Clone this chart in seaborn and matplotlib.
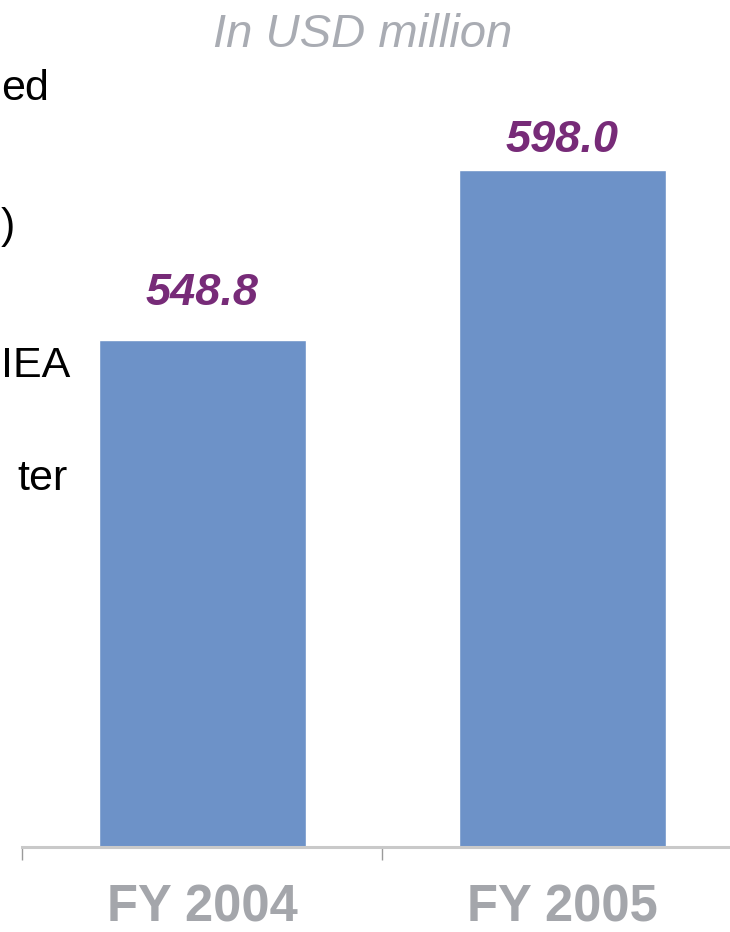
import matplotlib
matplotlib.use("Agg")
import matplotlib.pyplot as plt
import seaborn as sns
import pandas as pd

# Revenue by fiscal year
categories = ["FY 2004", "FY 2005"]
values = [548.8, 598.0]
unit_note = "In USD million"

# Fragments of the adjoining slide text at the left edge
side_text = ["ed", ")", "IEA", "ter"]

sns.set_style("white")
plt.rcParams["font.family"] = ["Liberation Sans", "DejaVu Sans"]

W, H = 730, 932
fig = plt.figure(figsize=(W / 100, H / 100), dpi=100)

# Axes spans from x=22px to x=742px, baseline at y=847px
left_px, right_px, base_px = 22, 742, 847
ax = fig.add_axes([left_px / W, (H - base_px) / H, (right_px - left_px) / W, base_px / H])

df = pd.DataFrame({"year": categories, "value": values})
sns.barplot(data=df, x="year", y="value", color="#6d92c8", saturation=1,
            width=0.575, ax=ax)

ax.set_xlim(-0.5, 1.5)
ax.set_ylim(402, 402 + base_px / 3.4537)
ax.set_xlabel("")
ax.set_ylabel("")
ax.set_yticks([])

for s in ["top", "right", "left"]:
    ax.spines[s].set_visible(False)
ax.spines["bottom"].set_color("#c9c9c9")
ax.spines["bottom"].set_linewidth(2.2)

# Category separators as minor ticks
ax.set_xticks([-0.5, 0.5, 1.5], minor=True)
ax.tick_params(axis="x", which="minor", length=9.5, width=1.0, color="#9a9a9a",
               direction="out", bottom=True)
ax.tick_params(axis="x", which="major", length=0, pad=26)
for lbl in ax.get_xticklabels():
    lbl.set_fontsize(36.5)
    lbl.set_fontweight("bold")
    lbl.set_color("#a4a6ab")

# Value labels above bars
offsets = [25, 13]
for i, (v, off) in enumerate(zip(values, offsets)):
    ax.annotate(f"{v:.1f}", xy=(i, v), xytext=(0, off), textcoords="offset points",
                ha="center", va="baseline", fontsize=32.5, fontweight="bold",
                fontstyle="italic", color="#772b78")

# Unit note
fig.text(363 / W, 1 - 47 / H, unit_note, ha="center", va="baseline",
         fontsize=34, fontstyle="italic", color="#a9acb3")

# Left-edge slide text
side_pos = [(1, 100, "left"), (1, 238, "left"), (1, 377, "left"), (68, 490, "right")]
for t, (x, y, ha) in zip(side_text, side_pos):
    fig.text(x / W, 1 - y / H, t, ha=ha, va="baseline", fontsize=31,
             color="black")

fig.savefig("out.png", dpi=100)
